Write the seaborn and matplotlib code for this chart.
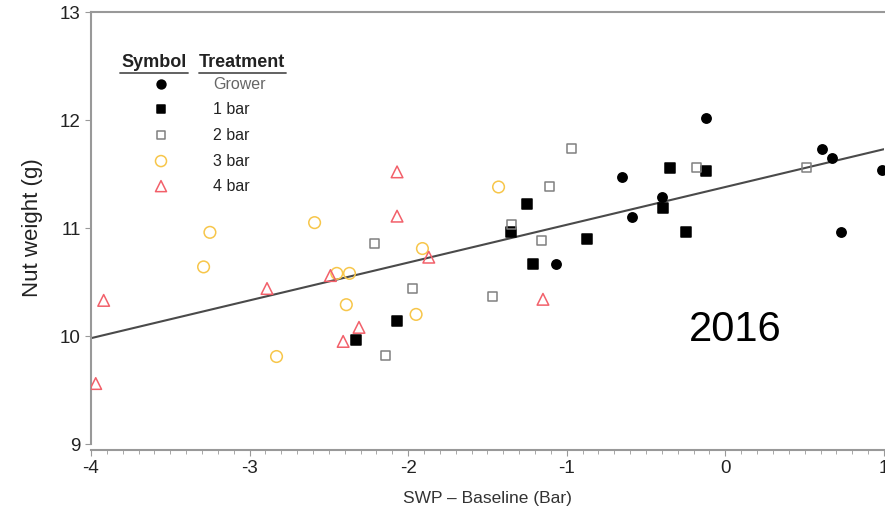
import numpy as np
import pandas as pd
import seaborn as sns
import matplotlib.pyplot as plt
from matplotlib.ticker import MultipleLocator

# values
grower_x = [-1.07, -0.65, -0.59, -0.40, -0.12, 0.61, 0.67, 0.73, 0.99]
grower_y = [10.67, 11.47, 11.10, 11.29, 12.02, 11.73, 11.65, 10.96, 11.54]

bar1_x = [-2.33, -2.07, -1.35, -1.25, -1.21, -0.87, -0.39, -0.35, -0.25, -0.12]
bar1_y = [9.96, 10.14, 10.96, 11.22, 10.67, 10.90, 11.19, 11.56, 10.96, 11.53]

bar2_x = [-2.21, -2.14, -1.97, -1.47, -1.35, -1.16, -1.11, -0.97, -0.18, 0.51]
bar2_y = [10.86, 9.82, 10.44, 10.37, 11.03, 10.88, 11.38, 11.74, 11.56, 11.56]

bar3_x = [-3.29, -3.25, -2.83, -2.59, -2.45, -2.39, -2.37, -1.95, -1.91, -1.43]
bar3_y = [10.64, 10.96, 9.81, 11.05, 10.58, 10.29, 10.58, 10.20, 10.81, 11.38]

bar4_x = [-3.97, -3.92, -2.89, -2.49, -2.41, -2.31, -2.07, -2.07, -1.87, -1.15]
bar4_y = [9.56, 10.33, 10.44, 10.56, 9.95, 10.08, 11.52, 11.11, 10.73, 10.34]

fit_x = [-4, 1]
fit_y = [9.98, 11.73]

treatments = ['Grower', '1 bar', '2 bar', '3 bar', '4 bar']

sns.set_style('white')
plt.rcParams['font.family'] = ['Liberation Sans', 'DejaVu Sans']
plt.rcParams['axes.unicode_minus'] = False

frames = []
for name, xs, ys in zip(treatments,
                        [grower_x, bar1_x, bar2_x, bar3_x, bar4_x],
                        [grower_y, bar1_y, bar2_y, bar3_y, bar4_y]):
    frames.append(pd.DataFrame({'swp': xs, 'weight': ys, 'treatment': name}))
df = pd.concat(frames, ignore_index=True)

# marker, size, face, edge
styles = {
    'Grower': ('o', 45, 'black', 'black'),
    '1 bar': ('s', 45, 'black', 'black'),
    '2 bar': ('s', 42, 'none', '#808080'),
    '3 bar': ('o', 70, 'none', '#F7C64A'),
    '4 bar': ('^', 70, 'none', '#F2606A'),
}

fig = plt.figure(figsize=(8.85, 5.13), dpi=100)
ax = fig.add_axes([0.1028, 0.1345, 0.896, 0.842])

sns.lineplot(x=fit_x, y=fit_y, ax=ax, color='#4a4a4a', linewidth=1.5)

for name in treatments:
    m, s, fc, ec = styles[name]
    sub = df[df['treatment'] == name]
    sns.scatterplot(data=sub, x='swp', y='weight', ax=ax, marker=m, s=s,
                    facecolor=fc, edgecolor=ec, linewidth=1.1, zorder=3)

ax.set_xlim(-4, 1)
ax.set_ylim(9, 13)
ax.xaxis.set_major_locator(MultipleLocator(1))
ax.xaxis.set_minor_locator(MultipleLocator(0.1))
ax.yaxis.set_major_locator(MultipleLocator(1))

for side in ['left', 'bottom', 'top']:
    ax.spines[side].set_color('#999999')
    ax.spines[side].set_linewidth(1.5)
ax.spines['right'].set_visible(False)
ax.spines['bottom'].set_position(('outward', 4))

ax.tick_params(axis='both', which='major', direction='out', length=4,
               color='#999999', labelsize=13.5, bottom=True, left=True,
               labelcolor='#222222')
ax.tick_params(axis='x', which='minor', direction='out', length=3,
               color='#999999', bottom=True)
ax.set_xlabel('SWP \u2013 Baseline (Bar)', fontsize=12.5, color='#333333', labelpad=10)
ax.set_ylabel('Nut weight (g)', fontsize=16, color='#222222', labelpad=12)

# legend table, top left
ax.text(0.0794, 0.884, 'Symbol', transform=ax.transAxes, fontsize=13,
        fontweight='bold', ha='center', va='center', color='#222222')
ax.text(0.1904, 0.884, 'Treatment', transform=ax.transAxes, fontsize=13,
        fontweight='bold', ha='center', va='center', color='#222222')
ax.plot([0.037, 0.122], [0.860, 0.860], transform=ax.transAxes, color='#555555', lw=1.3)
ax.plot([0.136, 0.246], [0.860, 0.860], transform=ax.transAxes, color='#555555', lw=1.3)

rows_y = [0.833, 0.775, 0.715, 0.655, 0.597]
for name, ry in zip(treatments, rows_y):
    m, s, fc, ec = styles[name]
    ax.scatter([0.0883], [ry], transform=ax.transAxes, marker=m, s=s * 0.9,
               facecolor=fc, edgecolor=ec, linewidth=1.1, clip_on=False)
    ax.text(0.154, ry, name, transform=ax.transAxes, fontsize=11.5,
            va='center', ha='left', color='#666666' if name == 'Grower' else '#222222')

ax.text(0.812, 0.264, '2016', transform=ax.transAxes, fontsize=30,
        ha='center', va='center', color='black')

plt.savefig('out.png', dpi=100)
